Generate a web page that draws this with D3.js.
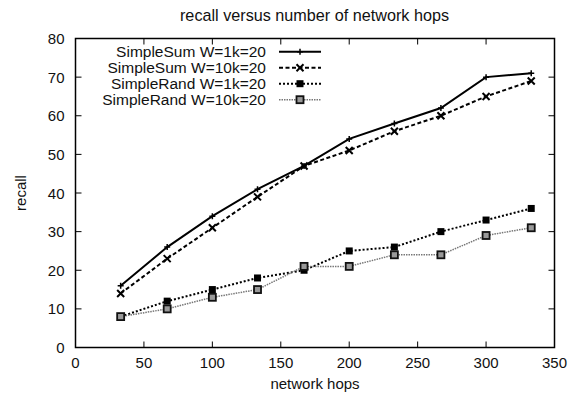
<!DOCTYPE html>
<html><head><meta charset="utf-8">
<script src="https://cdn.jsdelivr.net/npm/d3@7"></script>
<style>body{margin:0;background:#fff}svg{display:block}text{font-family:"Liberation Sans",Arial,sans-serif;fill:#111}</style>
</head><body>
<script>
const hops = [33, 67, 100, 133, 167, 200, 233, 267, 300, 333];
const sumW1k = [16, 26, 34, 41, 47, 54, 58, 62, 70, 71];
const sumW10k = [14, 23, 31, 39, 47, 51, 56, 60, 65, 69];
const randW1k = [8, 12, 15, 18, 20, 25, 26, 30, 33, 36];
const randW10k = [8, 10, 13, 15, 21, 21, 24, 24, 29, 31];
const seriesNames = ["SimpleSum W=1k=20", "SimpleSum W=10k=20", "SimpleRand W=1k=20", "SimpleRand W=10k=20"];
const xTicks = [0, 50, 100, 150, 200, 250, 300, 350];
const yTicks = [0, 10, 20, 30, 40, 50, 60, 70, 80];

const W = 574, H = 394;
const L = 75.5, R = 554.5, T = 38.5, B = 347.5;
const svg = d3.select("body").append("svg").attr("width", W).attr("height", H);
const x = d3.scaleLinear().domain([0, 350]).range([L, R]);
const y = d3.scaleLinear().domain([0, 80]).range([B, T]);

const styles = [
  {stroke: "#000", width: 2, dash: null, marker: "plus"},
  {stroke: "#000", width: 2, dash: "4,2.5", marker: "cross"},
  {stroke: "#000", width: 2, dash: "2,2", marker: "fsquare"},
  {stroke: "#777", width: 1.5, dash: "1.5,1", marker: "osquare"}
];
const data = [sumW1k, sumW10k, randW1k, randW10k];

const tl = 6;
const g = svg.append("g");
xTicks.forEach(v => {
  g.append("line").attr("x1", x(v)).attr("x2", x(v)).attr("y1", B).attr("y2", B - tl).attr("stroke", "#000");
  g.append("line").attr("x1", x(v)).attr("x2", x(v)).attr("y1", T).attr("y2", T + tl).attr("stroke", "#000");
  g.append("text").attr("x", x(v)).attr("y", 368).attr("text-anchor", "middle").attr("font-size", 15).text(v);
});
yTicks.forEach(v => {
  g.append("line").attr("x1", L).attr("x2", L + tl).attr("y1", y(v)).attr("y2", y(v)).attr("stroke", "#000");
  g.append("line").attr("x1", R).attr("x2", R - tl).attr("y1", y(v)).attr("y2", y(v)).attr("stroke", "#000");
  g.append("text").attr("x", 64.5).attr("y", y(v) + 5.5).attr("text-anchor", "end").attr("font-size", 15).text(v);
});
svg.append("rect").attr("x", L).attr("y", T).attr("width", R - L).attr("height", B - T)
  .attr("fill", "none").attr("stroke", "#000").attr("stroke-width", 1.5);

svg.append("text").attr("x", 314.5).attr("y", 21).attr("text-anchor", "middle").attr("font-size", 16.2).text("recall versus number of network hops");
svg.append("text").attr("x", 315).attr("y", 388.5).attr("text-anchor", "middle").attr("font-size", 15).text("network hops");
svg.append("text").attr("transform", "translate(26,193) rotate(-90)").attr("text-anchor", "middle").attr("font-size", 15).text("recall");

function marker(sel, type, cx, cy) {
  if (type === "plus") {
    sel.append("path").attr("d", `M${cx-3},${cy}H${cx+3}M${cx},${cy-3}V${cy+3}`).attr("stroke", "#000").attr("stroke-width", 1.5);
  } else if (type === "cross") {
    sel.append("path").attr("d", `M${cx-3.5},${cy-3.5}L${cx+3.5},${cy+3.5}M${cx-3.5},${cy+3.5}L${cx+3.5},${cy-3.5}`).attr("stroke", "#000").attr("stroke-width", 2);
  } else if (type === "fsquare") {
    sel.append("rect").attr("x", cx - 3.5).attr("y", cy - 3.5).attr("width", 7).attr("height", 7).attr("fill", "#000");
  } else {
    sel.append("rect").attr("x", cx - 3.5).attr("y", cy - 3.5).attr("width", 7).attr("height", 7).attr("fill", "#999").attr("stroke", "#111").attr("stroke-width", 1.8);
  }
}

const line = d3.line().x((d, i) => x(hops[i])).y(d => y(d));
data.forEach((vals, k) => {
  const s = styles[k];
  const p = svg.append("path").datum(vals).attr("d", line).attr("fill", "none")
    .attr("stroke", s.stroke).attr("stroke-width", s.width);
  if (s.dash) p.attr("stroke-dasharray", s.dash);
  const mg = svg.append("g");
  vals.forEach((v, i) => marker(mg, s.marker, x(hops[i]), y(v)));
});

seriesNames.forEach((name, k) => {
  const s = styles[k];
  const ly = 51.7 + k * 16;
  svg.append("text").attr("x", 266).attr("y", ly + 5.3).attr("text-anchor", "end").attr("font-size", 15.5).text(name);
  const p = svg.append("line").attr("x1", 279).attr("x2", 321).attr("y1", ly).attr("y2", ly)
    .attr("stroke", s.stroke).attr("stroke-width", s.width);
  if (s.dash) p.attr("stroke-dasharray", s.dash);
  marker(svg, s.marker, 300, ly);
});
</script>
</body></html>
